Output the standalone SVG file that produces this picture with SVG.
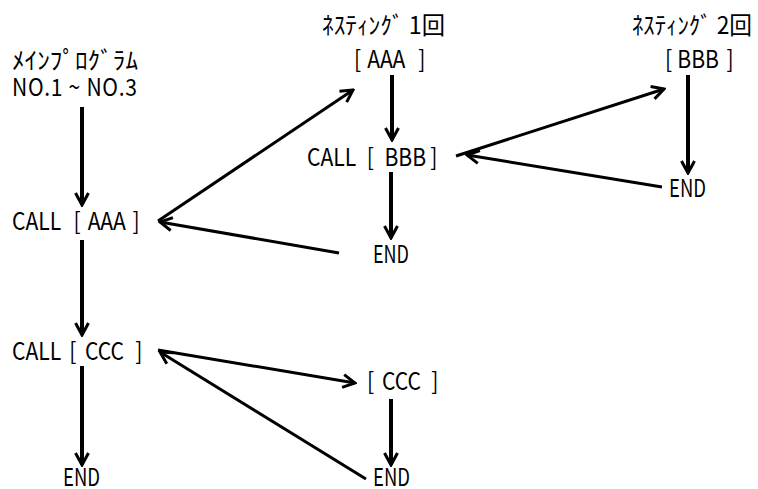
<svg xmlns="http://www.w3.org/2000/svg" width="758" height="489" viewBox="0 0 758 489">
  <style>
    .t { font-family: "Noto Sans CJK JP", "DejaVu Sans", sans-serif; font-size: 24px; fill: #000; }
    .v { stroke: #000; stroke-width: 4; fill: none; marker-end: url(#head); }
    .d { stroke: #000; stroke-width: 3; fill: none; marker-end: url(#head); }
  </style>
  <defs>
    <marker id="head" viewBox="0 0 16 16" markerWidth="16" markerHeight="16" refX="14" refY="8" orient="auto" markerUnits="userSpaceOnUse">
      <path d="M2,1.5 L14,8 L2,14.5" fill="none" stroke="#000" stroke-width="3"/>
    </marker>
  </defs>

  <rect width="758" height="489" fill="#fff"/>

  <g id="connectors">
    <!-- main program flow -->
    <path class="v" d="M82,107 L82,205"/>
    <path class="v" d="M82,240 L82,335"/>
    <path class="v" d="M82,366 L82,465"/>
    <!-- call AAA and return -->
    <path class="d" d="M158,221 L353,90"/>
    <path class="d" d="M339,253 L160,222"/>
    <path class="v" d="M392,75 L392,140"/>
    <path class="v" d="M391,172 L391,238"/>
    <!-- call BBB and return -->
    <path class="d" d="M456,156 L664,89"/>
    <path class="d" d="M662,187 L467,155"/>
    <path class="v" d="M688,75 L688,173"/>
    <!-- call CCC and return -->
    <path class="d" d="M158,350 L355,383"/>
    <path class="d" d="M366,479 L160,352"/>
    <path class="v" d="M391,399 L391,465"/>
  </g>

  <!-- labels are drawn horizontally condensed (scale 0.88) -->
  <g id="main-title">
    <text class="t" x="12" y="69" textLength="126" lengthAdjust="spacingAndGlyphs">ﾒｲﾝﾌﾟﾛｸﾞﾗﾑ</text>
    <text class="t" transform="translate(12,96) scale(0.88,1)" x="0" y="0" textLength="142" lengthAdjust="spacing">NO.1 ~ NO.3</text>
  </g>
  <g id="main-call-aaa">
    <text class="t" transform="translate(12,230) scale(0.88,1)" y="0"><tspan x="0">CALL </tspan><tspan x="70">[ </tspan><tspan x="86">AAA </tspan><tspan x="137">]</tspan></text>
  </g>
  <g id="main-call-ccc">
    <text class="t" transform="translate(12,360) scale(0.88,1)" y="0"><tspan x="0">CALL </tspan><tspan x="65">[ </tspan><tspan x="83">CCC </tspan><tspan x="140">]</tspan></text>
  </g>
  <g id="main-end">
    <text class="t" x="63" y="486" textLength="37" lengthAdjust="spacingAndGlyphs">END</text>
  </g>

  <g id="nest1-title">
    <text class="t" x="322" y="34" textLength="123" lengthAdjust="spacingAndGlyphs">ﾈｽﾃｨﾝｸﾞ 1回</text>
  </g>
  <g id="sub-aaa">
    <text class="t" transform="translate(354,68) scale(0.88,1)" y="0"><tspan x="0">[ </tspan><tspan x="15">AAA </tspan><tspan x="73">]</tspan></text>
  </g>
  <g id="aaa-call-bbb">
    <text class="t" transform="translate(307,166) scale(0.88,1)" y="0"><tspan x="0">CALL </tspan><tspan x="68">[ </tspan><tspan x="88">BBB </tspan><tspan x="140">]</tspan></text>
  </g>
  <g id="aaa-end">
    <text class="t" x="373" y="263" textLength="36" lengthAdjust="spacingAndGlyphs">END</text>
  </g>

  <g id="nest2-title">
    <text class="t" x="632" y="34" textLength="120" lengthAdjust="spacingAndGlyphs">ﾈｽﾃｨﾝｸﾞ 2回</text>
  </g>
  <g id="sub-bbb">
    <text class="t" transform="translate(665,68) scale(0.88,1)" y="0"><tspan x="0">[ </tspan><tspan x="14">BBB </tspan><tspan x="70">]</tspan></text>
  </g>
  <g id="bbb-end">
    <text class="t" x="669" y="197" textLength="37" lengthAdjust="spacingAndGlyphs">END</text>
  </g>

  <g id="sub-ccc">
    <text class="t" transform="translate(367,390) scale(0.88,1)" y="0"><tspan x="0">[ </tspan><tspan x="17">CCC </tspan><tspan x="73">]</tspan></text>
  </g>
  <g id="ccc-end">
    <text class="t" x="373" y="486" textLength="37" lengthAdjust="spacingAndGlyphs">END</text>
  </g>
</svg>
